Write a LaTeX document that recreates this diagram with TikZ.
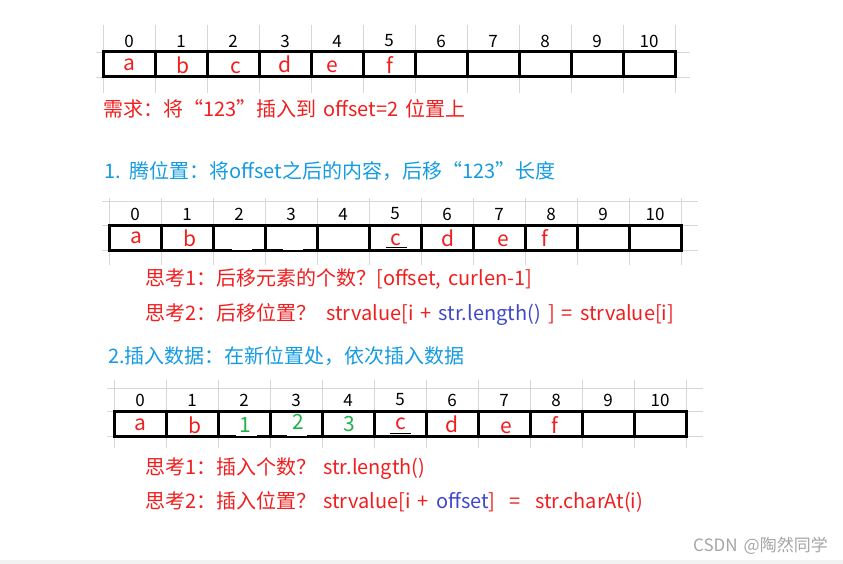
\documentclass[tikz,border=0pt]{standalone}
\usepackage{xcolor}
\usepackage{fontspec}
\setmainfont{Noto Sans CJK SC}[WordSpace=1.6]
\usepackage{tikz}
\usetikzlibrary{positioning}

\definecolor{txtred}{RGB}{240,30,30}
\definecolor{txtblue}{RGB}{20,155,225}
\definecolor{txtpurple}{RGB}{63,72,204}
\definecolor{txtgreen}{RGB}{34,177,76}
\definecolor{gridgray}{RGB}{215,215,215}
\definecolor{markgray}{RGB}{165,165,165}

\begin{document}
\begin{tikzpicture}[x=1pt, y=-1pt,
      cell/.style={draw, line width=3pt, minimum width=52pt,
                   minimum height=25pt, inner sep=0pt},
      idx/.style={font=\fontsize{17}{17}\selectfont, inner sep=0pt},
      chr/.style={font=\fontsize{21}{21}\selectfont, anchor=base, inner sep=0pt},
      note/.style={anchor=base west, inner sep=0pt,
                   font=\fontsize{20}{20}\selectfont},
      gridln/.style={draw=gridgray, line width=0.8pt},
      gap/.style={draw=white, line width=1pt},
      uline/.style={draw=black, line width=0.8pt}
    ]
    \useasboundingbox (0,0) rectangle (843,564);
    \fill[black!5] (0,560) rectangle (843,564);

    %% ---- array 1 (left 103, top 52) ----
    \foreach \i in {0,...,11}
      \draw[gridln] (103+52*\i, 25) -- (103+52*\i, 93);
    \draw[gridln] (96,52) -- (690,52);
    \draw[gridln] (96,77) -- (690,77);
    \foreach \i in {0,...,10} {
      \node[cell] (ca\i) at (129+52*\i, 64.5) {};
      \node[idx]  (ia\i) at (129+52*\i, 41) {\i};
    }
    \foreach \i/\c/\dx/\dy in {0/a/0/19, 1/b/2/22, 2/c/3/22, 3/d/0/21, 4/e/-5/21, 5/f/1/22}
      \node[chr, txtred] (la\i) at (129+52*\i+\dx, 52+\dy) {\c};

    %% need
    \node[note, txtred] (need) at (103,117) {需求：将“123”插入到 offset=2 位置上};

    %% ---- step 1 ----
    \node[note, txtblue] (step1) at (104,179)
          {1. 腾位置：将offset之后的内容，后移“123”长度};

    %% array 2 (left 109, top 225)
    \foreach \i in {0,...,11}
      \draw[gridln] (109+52*\i, 198) -- (109+52*\i, 265);
    \draw[gridln] (102,201) -- (698,201);
    \draw[gridln] (102,225) -- (698,225);
    \draw[gridln] (102,250) -- (698,250);
    \foreach \i in {0,...,10} {
      \node[cell] (cb\i) at (135+52*\i, 237.5) {};
      \node[idx]  (ib\i) at (135+52*\i, 214) {\i};
    }
    \foreach \i/\c/\dx/\dy in {0/a/1/18, 1/b/3/22, 5/c/1/20, 6/d/1/22, 7/e/4/22, 8/f/-6/21}
      \node[chr, txtred] (lb\i) at (135+52*\i+\dx, 225+\dy) {\c};
    \draw[gap] (232,249) -- (252,249);
    \draw[gap] (283,249) -- (303,249);
    \draw[uline] (lb5.base west) ++(-4,2.5) -- ++(21,0);

    %% thoughts on step 1
    \node[note, txtred] (q11) at (145,285)
          {思考1：后移元素的个数？[offset, curlen-1]};
    \node[note, txtred] (q12) at (145,320)
          {思考2：后移位置？\hspace{10pt}strvalue[i + \textcolor{txtpurple}{str.length()} ] = strvalue[i]};

    %% ---- step 2 ----
    \node[note, txtblue] (step2) at (108,363) {2.插入数据：在新位置处，依次插入数据};

    %% array 3 (left 114, top 411)
    \foreach \i in {0,...,11}
      \draw[gridln] (114+52*\i, 380) -- (114+52*\i, 448);
    \draw[gridln] (107,388) -- (703,388);
    \draw[gridln] (107,411) -- (703,411);
    \draw[gridln] (107,436) -- (703,436);
    \foreach \i in {0,...,10} {
      \node[cell] (cc\i) at (140+52*\i, 423.5) {};
      \node[idx]  (ic\i) at (140+52*\i, 400) {\i};
    }
    \foreach \i/\c/\dx/\dy in {0/a/0/19, 1/b/3/22, 5/c/1/18, 6/d/0/21, 7/e/2/22, 8/f/-1/22}
      \node[chr, txtred] (lc\i) at (140+52*\i+\dx, 411+\dy) {\c};
    \foreach \i/\c/\dx/\dy in {2/1/1/21, 3/2/2/18, 4/3/1/20}
      \node[chr, txtgreen] (lc\i) at (140+52*\i+\dx, 411+\dy) {\c};
    \draw[gap] (236,435) -- (257,435);
    \draw[gap] (287,435) -- (307,435);
    \draw[uline] (lc5.base west) ++(-5,4) -- ++(21,0);

    %% thoughts on step 2
    \node[note, txtred] (q21) at (145,474) {思考1：插入个数？ str.length()};
    \node[note, txtred] (q22) at (145,508)
          {思考2：插入位置？ strvalue[i + \textcolor{txtpurple}{offset}]\ \ =\ \ str.charAt(i)};

    %% watermark
    \node[anchor=base east, inner sep=0pt, markgray,
          font=\fontsize{17}{17}\selectfont] (mark) at (828,551) {CSDN @陶然同学};
  \end{tikzpicture}
\end{document}
